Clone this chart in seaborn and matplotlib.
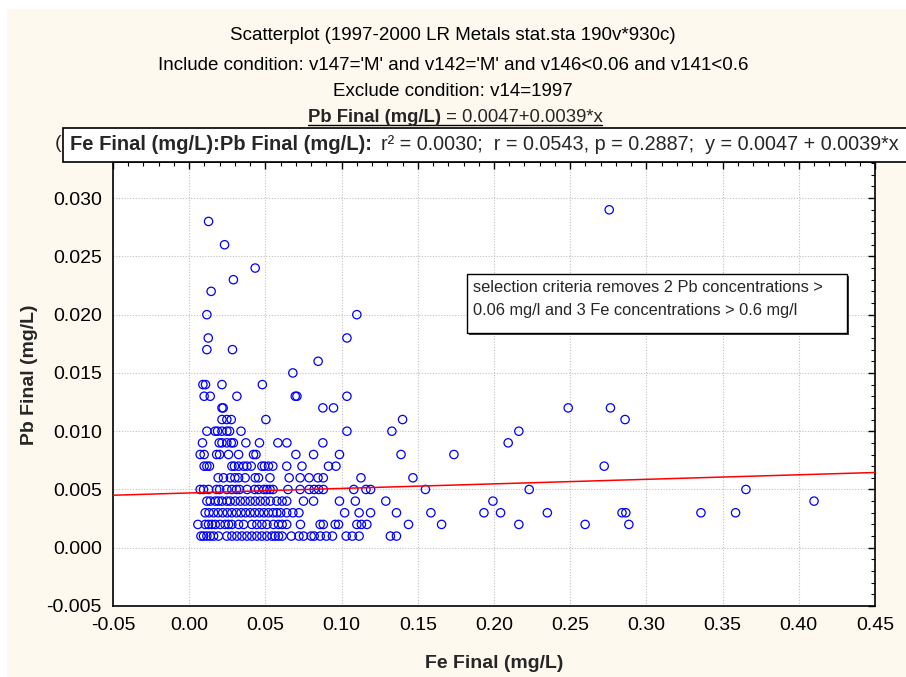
import matplotlib
matplotlib.use("Agg")
import matplotlib.pyplot as plt
import seaborn as sns
import pandas as pd
import numpy as np
from matplotlib.patches import Rectangle
from matplotlib.lines import Line2D
from matplotlib.ticker import MultipleLocator, FormatStrFormatter

# ---------------- data ----------------
fe_pb001 = [0.0077, 0.0094, 0.0116, 0.0138, 0.016, 0.0192, 0.0247, 0.028, 0.0313, 0.0346,
            0.0379, 0.0411, 0.0444, 0.0477, 0.051, 0.0543, 0.0564, 0.0586, 0.061, 0.067,
            0.072, 0.075, 0.080, 0.082, 0.086, 0.090, 0.094, 0.103, 0.107, 0.1115, 0.132, 0.136]
fe_pb002 = [0.0057, 0.0105, 0.0127, 0.0149, 0.0171, 0.0203, 0.0236, 0.0258, 0.028, 0.0324,
            0.0357, 0.0411, 0.0444, 0.0477, 0.051, 0.0553, 0.0586, 0.061, 0.064, 0.073,
            0.0859, 0.088, 0.0958, 0.098, 0.110, 0.113, 0.1166, 0.1439, 0.1656, 0.2163,
            0.2598, 0.2885]
fe_pb003 = [0.0105, 0.013, 0.016, 0.019, 0.022, 0.025, 0.028, 0.031, 0.034, 0.037, 0.040,
            0.043, 0.046, 0.049, 0.052, 0.055, 0.0575, 0.060, 0.064, 0.068, 0.072, 0.102,
            0.1115, 0.119, 0.136, 0.1586, 0.1934, 0.2043, 0.235, 0.284, 0.2865, 0.3358, 0.3585]
fe_pb004 = [0.0116, 0.0138, 0.0171, 0.0192, 0.0215, 0.0247, 0.0269, 0.0302, 0.0335, 0.0367,
            0.040, 0.0433, 0.0466, 0.0499, 0.0532, 0.0575, 0.061, 0.064, 0.075, 0.0816,
            0.0986, 0.109, 0.129, 0.1993, 0.410]
fe_pb005 = [0.0072, 0.0094, 0.0127, 0.018, 0.020, 0.0247, 0.028, 0.031, 0.033, 0.038, 0.043,
            0.0455, 0.049, 0.051, 0.053, 0.055, 0.0648, 0.0728, 0.0787, 0.082, 0.085, 0.088,
            0.108, 0.116, 0.119, 0.155, 0.2231, 0.3653]
fe_pb006 = [0.019, 0.0225, 0.027, 0.030, 0.0324, 0.0367, 0.0433, 0.0455, 0.053, 0.0656,
            0.0728, 0.0787, 0.0845, 0.088, 0.1127, 0.1468]
fe_pb007 = [0.0098, 0.0116, 0.0133, 0.028, 0.0297, 0.0324, 0.0357, 0.0379, 0.0407, 0.0477,
            0.0494, 0.052, 0.0549, 0.064, 0.074, 0.0914, 0.0963, 0.2723]
fe_pb008 = [0.0072, 0.0098, 0.018, 0.0199, 0.0258, 0.0324, 0.0422, 0.0438, 0.070, 0.0816,
            0.0986, 0.139, 0.1737]
fe_pb009 = [0.0087, 0.0197, 0.0215, 0.0247, 0.0276, 0.029, 0.0372, 0.0461, 0.0582, 0.0641,
            0.0877, 0.2093]
fe_pb010 = [0.0116, 0.017, 0.0186, 0.0215, 0.0247, 0.0265, 0.034, 0.1035, 0.133, 0.2163]
fe_pb011 = [0.0215, 0.0247, 0.0276, 0.0503, 0.140, 0.286]
fe_pb012 = [0.0215, 0.0223, 0.0877, 0.0947, 0.2487, 0.2764]
fe_pb013 = [0.0098, 0.0138, 0.0313, 0.0696, 0.0707, 0.1035]
fe_pb014 = [0.009, 0.0107, 0.0215, 0.048]
fe_pb015 = [0.068]
fe_pb016 = [0.0846]
fe_pb017 = [0.0116, 0.0284]
fe_pb018 = [0.0125, 0.1035]
fe_pb020 = [0.0116, 0.110]
fe_pb022 = [0.0144]
fe_pb023 = [0.029]
fe_pb024 = [0.0433]
fe_pb026 = [0.0232]
fe_pb028 = [0.0127]
fe_pb029 = [0.2756]

pb_levels = [0.001, 0.002, 0.003, 0.004, 0.005, 0.006, 0.007, 0.008, 0.009, 0.010,
             0.011, 0.012, 0.013, 0.014, 0.015, 0.016, 0.017, 0.018, 0.020, 0.022,
             0.023, 0.024, 0.026, 0.028, 0.029]
fe_rows = [fe_pb001, fe_pb002, fe_pb003, fe_pb004, fe_pb005, fe_pb006, fe_pb007, fe_pb008,
           fe_pb009, fe_pb010, fe_pb011, fe_pb012, fe_pb013, fe_pb014, fe_pb015, fe_pb016,
           fe_pb017, fe_pb018, fe_pb020, fe_pb022, fe_pb023, fe_pb024, fe_pb026, fe_pb028,
           fe_pb029]

intercept = 0.0047
slope = 0.0039
x_limits = [-0.05, 0.45]
y_limits = [-0.005, 0.0331]

title_lines = ["Scatterplot (1997-2000 LR Metals stat.sta 190v*930c)",
               "Include condition: v147='M' and v142='M' and v146<0.06 and v141<0.6",
               "Exclude condition: v14=1997"]
eq_bold = "Pb Final (mg/L)"
eq_rest = " = 0.0047+0.0039*x"
stats_bold = "Fe Final (mg/L):Pb Final (mg/L):"
stats_rest = "r\u00b2 = 0.0030;  r = 0.0543, p = 0.2887;  y = 0.0047 + 0.0039*x"
note_lines = ["selection criteria removes 2 Pb concentrations >",
              "0.06 mg/l and 3 Fe concentrations > 0.6 mg/l"]
x_label = "Fe Final (mg/L)"
y_label = "Pb Final (mg/L)"

rows = []
for pb, fes in zip(pb_levels, fe_rows):
    for fe in fes:
        rows.append((fe, pb))
df = pd.DataFrame(rows, columns=["Fe", "Pb"])

# ---------------- figure ----------------
sns.set_theme(style="white")
plt.rcParams['font.family'] = ['Liberation Sans', 'DejaVu Sans']
plt.rcParams['axes.unicode_minus'] = False

W, H = 906, 677
fig = plt.figure(figsize=(W / 100, H / 100), dpi=100)
fig.patch.set_facecolor('white')


def fx(px):
    return px / W


def fy(py):
    return 1 - py / H


fig.add_artist(Rectangle((fx(7), 0), 1, fy(9), transform=fig.transFigure,
                         facecolor='#FDF9EF', edgecolor='none', zorder=-10))

ax = fig.add_axes([fx(113), fy(606), (875 - 113) / W, (606 - 162) / H])
ax.set_facecolor('white')
ax.set_axisbelow(True)

sns.scatterplot(data=df, x="Fe", y="Pb", ax=ax, marker='o', s=36,
                facecolor='none', edgecolor='#0000FF', linewidth=0.9, zorder=3)
for c in ax.collections:
    c.set_facecolor('none')
    c.set_edgecolor('#0000FF')

line_x = np.array(x_limits)
sns.lineplot(x=line_x, y=intercept + slope * line_x, ax=ax, color='#FF0000', lw=1.1, zorder=4)

ax.set_xlim(*x_limits)
ax.set_ylim(*y_limits)
ax.xaxis.set_major_locator(MultipleLocator(0.05))
ax.xaxis.set_minor_locator(MultipleLocator(0.01))
ax.yaxis.set_major_locator(MultipleLocator(0.005))
ax.yaxis.set_minor_locator(MultipleLocator(0.001))
ax.xaxis.set_major_formatter(FormatStrFormatter('%.2f'))
ax.yaxis.set_major_formatter(FormatStrFormatter('%.3f'))

ax.grid(True, which='major', linestyle=(0, (1, 1.5)), color='#c0c0c0', linewidth=0.8)
for s in ax.spines.values():
    s.set_color('black')
    s.set_linewidth(1.2)

ax.tick_params(axis='both', which='both', direction='in', top=True, right=True,
               colors='black', labelsize=14)
ax.tick_params(axis='both', which='major', length=5, width=1)
ax.tick_params(axis='both', which='minor', length=3, width=0.8)
ax.tick_params(axis='x', which='major', pad=8)
ax.tick_params(axis='y', which='major', pad=8)

ax.set_xlabel(x_label, fontsize=14, fontweight='bold')
ax.set_ylabel(y_label, fontsize=14, fontweight='bold')
ax.xaxis.set_label_coords(0.5, (606 - 655) / 444)
ax.yaxis.set_label_coords((38 - 113) / 762, (606 - 375) / 444)

# ---------------- titles ----------------
for line, py in zip(title_lines, [36, 66, 92]):
    fig.text(fx(453), fy(py), line, ha='center', va='center', fontsize=13.5, color='black')

renderer = fig.canvas.get_renderer()
tb = fig.text(0, fy(118), eq_bold, ha='left', va='center', fontsize=13.3, fontweight='bold')
tr = fig.text(0, fy(118), eq_rest, ha='left', va='center', fontsize=13.3)
wb = tb.get_window_extent(renderer).width
wr = tr.get_window_extent(renderer).width
x0 = 455 - (wb + wr) / 2
tb.set_x(fx(x0))
tr.set_x(fx(x0 + wb))
fig.add_artist(Line2D([fx(x0), fx(x0 + wb + wr)], [fy(125), fy(125)],
                      transform=fig.transFigure, color='black', lw=1))

# hidden text peeking out behind the stats box
fig.text(fx(55), fy(144), "(", ha='left', va='center', fontsize=14, zorder=1)

# ---------------- stats box ----------------
fig.add_artist(Rectangle((fx(63), fy(162)), 1, (162 - 128) / H, transform=fig.transFigure,
                         facecolor='white', edgecolor='black', lw=1.2, zorder=20))
sb = fig.text(fx(70), fy(145), stats_bold, ha='left', va='center', fontsize=14.5,
              fontweight='bold', zorder=21)
wsb = sb.get_window_extent(renderer).width
fig.text(fx(70 + wsb + 9), fy(145), stats_rest, ha='left', va='center', fontsize=14.2,
         zorder=21)

# ---------------- note box ----------------
fig.add_artist(Rectangle((fx(469), fy(335)), (849 - 469) / W, (335 - 276) / H,
                         transform=fig.transFigure, facecolor='#404040', edgecolor='none',
                         zorder=9))
fig.add_artist(Rectangle((fx(467), fy(333)), (847 - 467) / W, (333 - 274) / H,
                         transform=fig.transFigure, facecolor='white', edgecolor='black',
                         lw=1, zorder=10))
for line, py in zip(note_lines, [287, 310]):
    fig.text(fx(473), fy(py), line, ha='left', va='center', fontsize=11.8, zorder=11)

fig.savefig("out.png", dpi=100)
